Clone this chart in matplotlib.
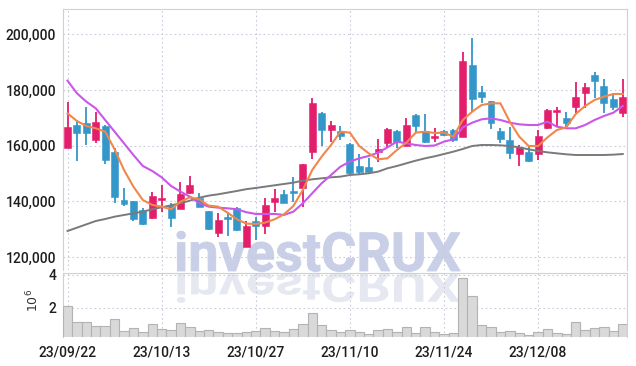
import matplotlib
matplotlib.use("Agg")
import matplotlib.pyplot as plt
from matplotlib.textpath import TextPath
from matplotlib.patches import PathPatch
from matplotlib.font_manager import FontProperties
from matplotlib.transforms import Affine2D, IdentityTransform
from matplotlib.ticker import FuncFormatter, FixedLocator
import numpy as np

# ---------------- data ----------------
opens = [159290, 167430, 168260, 162040, 167070, 157850, 140490, 140010, 136900, 134150,
         140620, 138700, 137380, 142890, 141330, 136540, 128760, 134510, 137500, 123710,
         133050, 131280, 139900, 142650, 143730, 144680, 157850, 171860, 165630, 165270,
         160600, 152700, 152460, 157850, 160840, 165270, 160000, 171020, 165270, 162880,
         165270, 165630, 163230, 188970, 179160, 176040, 165390, 162040, 156890, 157600,
         156890, 166470, 171970, 169820, 174010, 179040, 185380, 181430, 176640, 171850]
highs = [175800, 169220, 173800, 172210, 167300, 159050, 144680, 140300, 137500, 143490,
         145880, 139530, 147070, 149110, 142890, 136700, 135700, 136300, 138100, 133050,
         134270, 141090, 144320, 144080, 148870, 153500, 177000, 172210, 168860, 167070,
         161080, 156890, 155460, 162280, 166470, 165500, 169820, 171200, 171380, 166500,
         165600, 165870, 193520, 198780, 181430, 176200, 166230, 166590, 160240, 160000,
         165630, 173050, 174010, 172210, 182990, 182390, 186340, 183830, 178200, 183830]
lows = [159000, 154500, 160200, 160840, 153300, 139300, 138450, 132950, 131520, 133550,
        136300, 130920, 137140, 142650, 137860, 129720, 127330, 127570, 129480, 123500,
        126110, 128280, 136300, 139300, 139900, 138100, 155100, 159890, 161440, 162040,
        149470, 149710, 150310, 154260, 159050, 159050, 159800, 165030, 161000, 161440,
        163500, 161440, 163000, 172210, 175450, 165870, 161080, 155210, 152700, 154010,
        154850, 165870, 166830, 166830, 171850, 173410, 177000, 171610, 172810, 170180]
closes = [166830, 164670, 164430, 168500, 154860, 141690, 139050, 133670, 131870, 141930,
          141330, 133900, 142650, 145760, 138100, 130080, 133310, 133790, 129720, 131140,
          131250, 138700, 141330, 139530, 143130, 153300, 175210, 165630, 167430, 163600,
          150070, 150670, 150670, 158690, 165990, 161200, 167430, 167190, 161200, 163480,
          163950, 162040, 190410, 176760, 177360, 168020, 162520, 157240, 159640, 154610,
          163590, 172810, 172810, 168260, 177360, 180950, 183350, 175450, 174010, 177360]
volumes = [2.10, 1.12, 1.12, 0.89, 0.89, 1.30, 0.59, 0.75, 0.53, 1.01,
           0.71, 0.65, 1.07, 0.83, 0.59, 0.65, 0.51, 0.45, 0.45, 0.51,
           0.59, 0.75, 0.59, 0.51, 0.69, 0.99, 1.66, 0.93, 0.65, 0.51,
           0.65, 0.53, 0.42, 0.65, 0.71, 0.51, 0.81, 0.48, 0.81, 0.51,
           0.41, 0.45, 3.78, 2.71, 0.95, 0.81, 0.51, 0.59, 0.48, 0.33,
           0.51, 0.69, 0.48, 0.41, 1.12, 0.63, 0.75, 0.81, 0.59, 1.01]
ma_short = [171600, 168860, 167070, 166230, 165030, 158690, 151270, 145280, 140490, 138700,
            138100, 137140, 139900, 141450, 140730, 138460, 138100, 135940, 133550, 132000,
            131870, 132350, 133550, 135350, 138340, 144080, 151270, 156060, 160240, 165030,
            164670, 159880, 157250, 155100, 155460, 158450, 161080, 164670, 165030, 164550,
            164670, 163230, 169220, 172210, 174600, 175200, 175200, 168620, 163230, 159880,
            159880, 163000, 165630, 166590, 171380, 174250, 176400, 177600, 178560, 178560]
ma_mid = [183350, 178800, 175800, 173410, 169220, 165030, 160840, 156650, 152700, 150910,
          148630, 145520, 143490, 141690, 139300, 138100, 137740, 137500, 137140, 136100,
          135470, 135470, 135470, 135110, 136300, 139300, 142890, 146480, 149470, 152460,
          154260, 155460, 156290, 157490, 159410, 161440, 160840, 160240, 159880, 160060,
          161440, 162280, 166590, 168260, 169460, 169820, 169220, 168260, 167660, 167420,
          167420, 168620, 166830, 166230, 166230, 167420, 169220, 170650, 171850, 174250]
ma_long = [129350, 130540, 131740, 132940, 133660, 134490, 135100, 135700, 136300, 137140,
           137860, 138580, 139300, 140250, 141330, 142050, 142530, 143130, 143730, 144380,
           144800, 145280, 145760, 146240, 146720, 147440, 147920, 148270, 148630, 148870,
           149470, 149710, 150070, 150670, 151870, 152700, 153660, 154620, 155460, 156170,
           157000, 157850, 158800, 159880, 160240, 160240, 160120, 159880, 159400, 158680,
           158080, 157600, 157240, 156890, 156650, 156650, 156650, 156650, 156770, 157000]
tick_pos = [0, 10, 20, 30, 40, 50]
tick_labels = ["23/09/22", "23/10/13", "23/10/27", "23/11/10", "23/11/24", "23/12/08"]
price_ticks = [120000, 140000, 160000, 180000, 200000]
vol_ticks = [2, 4]

# ---------------- figure ----------------
W, H = 636, 366
plt.rcParams["font.family"] = ["Roboto", "DejaVu Sans"]
plt.rcParams["font.weight"] = "medium"
fig = plt.figure(figsize=(W / 100, H / 100), dpi=100)
fig.patch.set_facecolor("white")

ax = fig.add_axes([63.3 / W, 1 - 270 / H, (627 - 63.3) / W, (270 - 9.3) / H])
axv = fig.add_axes([63.3 / W, 1 - 337.3 / H, (627 - 63.3) / W, (337.3 - 272.7) / H])
for a in (ax, axv):
    a.set_facecolor("none")
    a.set_xlim(-0.45, 59.45)
    a.grid(True, color="#c9cbdc", linestyle=(0, (1.5, 2.5)), linewidth=0.8)
    a.set_axisbelow(True)
    a.xaxis.set_major_locator(FixedLocator(tick_pos))
    a.tick_params(length=0, labelsize=10, colors="#1e1e1e", pad=5)
    for s in ("left", "right", "top"):
        a.spines[s].set_color("#d0d0d0")
    a.spines["bottom"].set_visible(False)

ax.set_ylim(115340, 208980)
ax.set_yticks(price_ticks)
ax.yaxis.set_major_formatter(FuncFormatter(lambda v, p: f"{int(v):,}"))
ax.tick_params(labelbottom=False)

x = np.arange(len(opens))
red, blue = "#e31f6b", "#3397c9"
for i in x:
    o, h, l, c = opens[i], highs[i], lows[i], closes[i]
    col = red if c >= o else blue
    ax.vlines(i, l, h, color=col, linewidth=1.3, zorder=3)
    lo = min(o, c)
    ht = max(abs(c - o), 500)
    ax.bar(i, ht, bottom=lo, width=0.74, color=col, edgecolor=col, linewidth=0.4, zorder=4)

ax.plot(x, ma_long, color="#7a7a7a", linewidth=1.4, zorder=5)
ax.plot(x, ma_mid, color="#c957ea", linewidth=1.5, zorder=5)
ax.plot(x, ma_short, color="#f0874c", linewidth=1.5, zorder=6)

axv.bar(x, volumes, width=1.0, color="#d9d9d9", edgecolor="#b3b3b3", linewidth=0.8, zorder=3)
axv.set_ylim(0.21, 4.12)
axv.set_yticks(vol_ticks)
axv.set_xticklabels(tick_labels)
axv.tick_params(axis="x", pad=6)

fig.text(33 / W, 1 - 300 / H, r"$10^{6}$", rotation=90, ha="center", va="center",
         fontsize=9, color="#333333")

# watermark with reflection
fp = FontProperties(family="Roboto", weight="bold")
tp = TextPath((0, 0), "investCRUX", size=54, prop=fp)
x0, base = 174, H - 271
wm = PathPatch(tp, transform=Affine2D().translate(x0, base) + IdentityTransform(),
               facecolor="#c8cfe7", edgecolor="#c8cfe7", linewidth=0.6, zorder=-1)
fig.add_artist(wm)
wr = PathPatch(tp, transform=Affine2D().scale(1, -0.75).translate(x0, base - 2) + IdentityTransform(),
               facecolor="#e6e8f1", edgecolor="none", zorder=-1)
fig.add_artist(wr)

fig.savefig("out.png", dpi=100)
